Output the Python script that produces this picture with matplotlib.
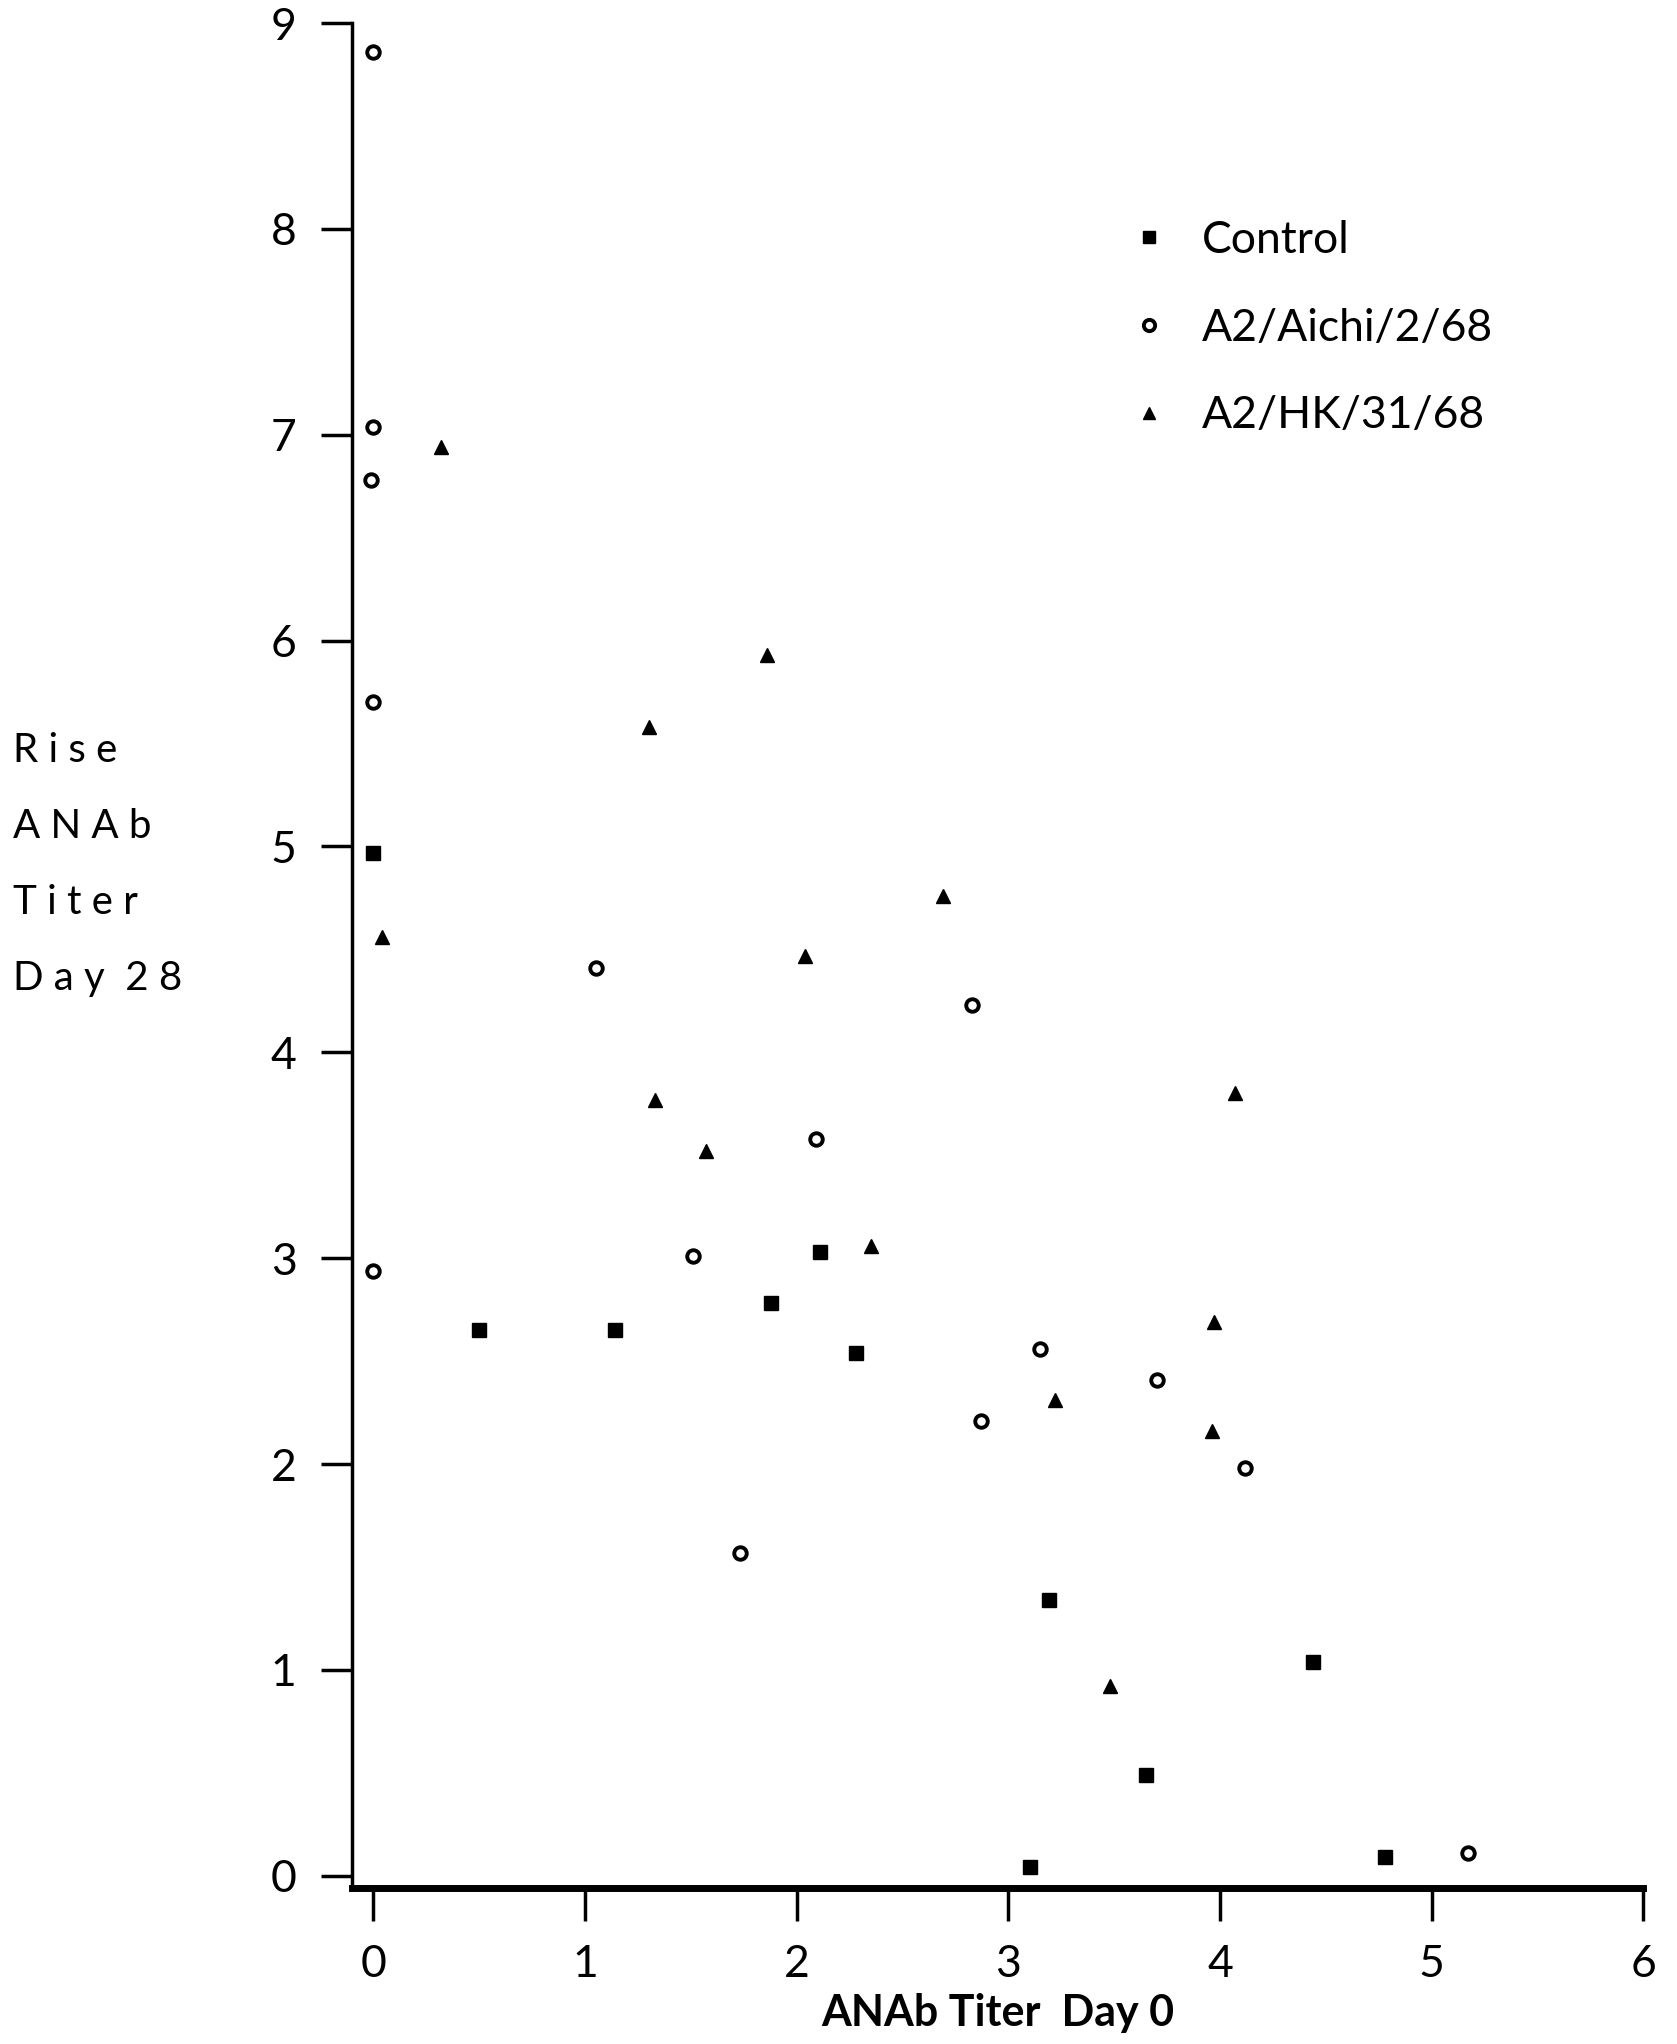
import matplotlib
matplotlib.use("Agg")
import matplotlib.pyplot as plt

plt.rcParams['font.family'] = ['Lato', 'DejaVu Sans']

# Data
control_x = [0.0, 0.5, 1.14, 1.88, 2.11, 2.28, 3.19, 3.65, 4.44, 3.10, 4.78]
control_y = [4.97, 2.65, 2.65, 2.78, 3.03, 2.54, 1.34, 0.49, 1.04, 0.04, 0.09]

aichi_x = [0.0, 0.0, -0.01, 0.0, 0.0, 1.05, 1.51, 1.73, 2.09, 2.83, 2.87, 3.15, 3.70, 4.12, 5.17]
aichi_y = [8.86, 7.04, 6.78, 5.70, 2.94, 4.41, 3.01, 1.57, 3.58, 4.23, 2.21, 2.56, 2.41, 1.98, 0.11]

hk_x = [0.32, 0.04, 1.30, 1.86, 1.33, 1.57, 2.04, 2.35, 2.69, 3.22, 3.48, 3.97, 3.96, 4.07]
hk_y = [6.94, 4.56, 5.58, 5.93, 3.77, 3.52, 4.47, 3.06, 4.76, 2.31, 0.92, 2.69, 2.16, 3.80]

x_ticks = [0, 1, 2, 3, 4, 5, 6]
y_ticks = [0, 1, 2, 3, 4, 5, 6, 7, 8, 9]
labels = ['Control', 'A2/Aichi/2/68', 'A2/HK/31/68']

fig = plt.figure(figsize=(16.77, 20.44), dpi=100)
ax = fig.add_axes([0.21, 0.0763, 0.77, 0.9124])

ax.plot(control_x, control_y, linestyle='none', marker='s', ms=10, color='black', label=labels[0])
ax.plot(aichi_x, aichi_y, linestyle='none', marker='o', ms=9, mfc='white', mec='black', mew=2.8, label=labels[1])
ax.plot(hk_x, hk_y, linestyle='none', marker='^', ms=10, color='black', label=labels[2])

ax.set_xlim(-0.1, 6.0)
ax.set_ylim(-0.06, 9.0)
ax.set_xticks(x_ticks)
ax.set_yticks(y_ticks)
ax.spines['top'].set_visible(False)
ax.spines['right'].set_visible(False)
ax.spines['left'].set_linewidth(2.5)
ax.spines['bottom'].set_linewidth(5)
ax.tick_params(axis='y', direction='out', length=22, width=2.5, labelsize=32, pad=18)
ax.tick_params(axis='x', direction='out', length=24, width=2.5, labelsize=32, pad=16)

ax.set_xlabel('ANAb Titer  Day 0', fontsize=31, fontweight='bold', labelpad=6)

fig.text(0.008, 0.642, 'R i s e\nA N A b\nT i t e r\nD a y  2 8', fontsize=29,
         ha='left', va='top', linespacing=2.3)

leg = ax.legend(loc='upper left', bbox_to_anchor=(0.648, 0.912), bbox_transform=fig.transFigure,
                frameon=False, fontsize=32, handletextpad=0.7, labelspacing=1.05,
                handlelength=1.0, markerscale=0.9)

fig.savefig('out.png', dpi=100)
